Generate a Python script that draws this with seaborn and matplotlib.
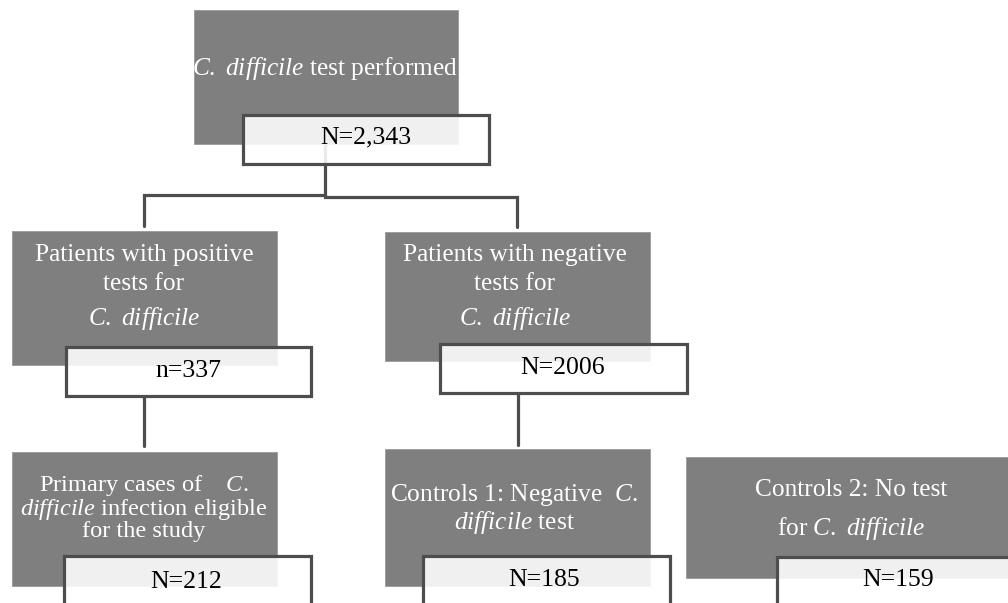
import matplotlib
matplotlib.use("Agg")
import matplotlib.pyplot as plt
from matplotlib.patches import Rectangle
import seaborn as sns

# ---------------- data ----------------
box_labels = [
    [r"$\mathit{C.}$ $\mathit{difficile}$ test performed"],
    ["Patients with positive", "tests for", r"$\mathit{C.}$ $\mathit{difficile}$"],
    ["Patients with negative", "tests for", r"$\mathit{C.}$ $\mathit{difficile}$"],
    [r"Primary cases of    $\mathit{C.}$", r"$\mathit{difficile}$ infection eligible", "for the study"],
    [r"Controls 1: Negative  $\mathit{C.}$", r"$\mathit{difficile}$ test"],
    ["Controls 2: No test", r"for $\mathit{C.}$ $\mathit{difficile}$"],
]
count_labels = ["N=2,343", "n=337", "N=2006", "N=212", "N=185", "N=159"]

# ---------------- layout (pixels, y downwards) ----------------
grey_boxes = [  # x0, y0, x1, y1
    (194, 10, 458, 144),
    (12, 231, 277, 365),
    (385, 232, 650, 361),
    (12, 452, 277, 586),
    (385, 449, 650, 586),
    (686, 457, 1015, 578),
]
white_boxes = [
    (243, 115, 489, 164),
    (66, 347, 311, 396),
    (440, 344, 687, 393),
    (64, 556, 311, 615),
    (423, 556, 670, 615),
    (777, 557, 1020, 615),
]
label_lines_y = [
    [68],
    [255, 284, 318],
    [255, 284, 318],
    [485, 509, 532],
    [495, 523],
    [490, 528],
]
label_size = [18.3, 18.3, 18.3, 17.6, 18.3, 18.3]
label_x = [325, 144, 515, 144, 514, 851]
count_pos = [(366, 137), (188, 371), (563, 368), (186, 582), (544, 580), (898, 580)]

connectors = [
    [(325, 144), (325, 195), (144, 195), (144, 226)],
    [(325, 195), (325, 197), (517, 197), (517, 227)],
    [(144, 396), (144, 446)],
    [(518, 393), (518, 445)],
]

sns.set_theme(style="white")
plt.rcParams["font.family"] = ["Liberation Serif", "DejaVu Serif"]
plt.rcParams["mathtext.fontset"] = "custom"
plt.rcParams["mathtext.it"] = "Liberation Serif:italic"
plt.rcParams["mathtext.rm"] = "Liberation Serif"

W, H = 1008, 603
fig = plt.figure(figsize=(W / 100, H / 100), dpi=100)
ax = fig.add_axes([0, 0, 1, 1])
ax.set_xlim(0, W)
ax.set_ylim(H, 0)
ax.axis("off")

grey = "#7f7f7f"
dark = "#4d4d4d"

for pts in connectors:
    xs, ys = zip(*pts)
    ax.plot(xs, ys, color=dark, lw=2.3, zorder=1, solid_joinstyle="miter")

for (x0, y0, x1, y1) in grey_boxes:
    ax.add_patch(Rectangle((x0, y0), x1 - x0, y1 - y0, facecolor=grey,
                           edgecolor="#9a9a9a", lw=0.6, zorder=2))

for (x0, y0, x1, y1) in white_boxes:
    ax.add_patch(Rectangle((x0, y0), x1 - x0, y1 - y0, facecolor=(1, 1, 1, 0.89),
                           edgecolor=dark, lw=2.3, zorder=3))

for lines, ys, x, fs in zip(box_labels, label_lines_y, label_x, label_size):
    for line, y in zip(lines, ys):
        ax.text(x, y, line, color="white", fontsize=fs, ha="center",
                va="center", zorder=4)

for lab, (x, y) in zip(count_labels, count_pos):
    ax.text(x, y, lab, color="black", fontsize=18.5, ha="center", va="center",
            zorder=5)

fig.savefig("out.png", dpi=100)
